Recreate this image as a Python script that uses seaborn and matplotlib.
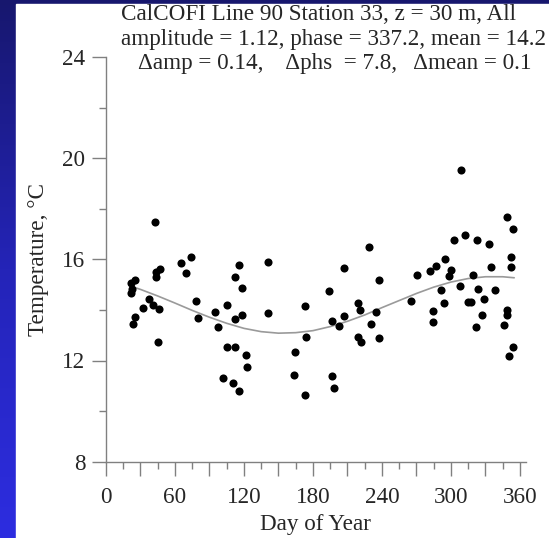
import numpy as np
import matplotlib
matplotlib.use("Agg")
import matplotlib.pyplot as plt
from matplotlib.ticker import MultipleLocator, FuncFormatter
from matplotlib.colors import LinearSegmentedColormap
from matplotlib.patches import Rectangle
import seaborn as sns

day = [21.4, 22.6, 21.7, 25.5, 23.2, 25.5, 32.1, 37.1, 40.5, 46.3,
       42.6, 43.4, 43.2, 47.2, 44.9, 65.2, 69.2, 74.1, 77.9, 80.2,
       94.7, 97.3, 105.4, 105.1, 112.1, 101.7, 110.1, 116.1, 112.1, 116.1,
       118.7, 112.1, 118.7, 121.4, 122.2,
       141.0, 141.0, 172.9, 174.0, 164.8, 163.6, 172.9,
       194.0, 196.9, 203.0, 196.9, 198.1, 206.8, 207.0, 218.9, 220.7, 218.9,
       222.1, 228.8, 230.8, 234.9, 237.8, 237.8, 265.0, 270.5,
       308.7, 281.8, 286.7, 294.8, 299.7, 298.0, 291.6, 293.9, 284.7, 284.7,
       302.6, 311.9, 307.8, 322.3, 333.0, 319.5, 334.8, 323.8, 338.3, 328.7,
       314.8, 317.7, 326.7, 321.7, 348.7, 353.6, 351.9, 351.9, 348.7, 349.0,
       346.4, 353.6, 350.7]
temp = [14.66, 14.84, 15.05, 15.18, 13.43, 13.73, 14.09, 14.43, 14.18, 14.05,
        17.46, 15.50, 15.29, 15.62, 12.73, 15.87, 15.46, 16.09, 14.34, 13.67,
        13.93, 13.32, 14.18, 12.52, 12.52, 11.31, 11.11, 10.79, 15.31, 15.77,
        14.85, 13.64, 13.79, 12.22, 11.73,
        15.88, 13.87, 14.14, 12.94, 12.35, 11.44, 10.62,
        14.75, 13.56, 13.38, 11.39, 10.91, 15.64, 13.77, 14.26, 14.00, 12.92,
        12.73, 16.49, 13.43, 13.92, 15.18, 12.89, 14.35, 15.39,
        19.52, 15.54, 15.75, 16.00, 15.58, 15.35, 14.80, 14.27, 13.96, 13.52,
        16.78, 16.97, 14.94, 16.76, 16.62, 15.39, 15.68, 14.81, 14.79, 14.42,
        14.30, 14.30, 13.80, 13.33, 17.67, 17.21, 16.09, 15.70, 14.00, 13.79,
        13.42, 12.55, 12.18]

# Annual harmonic fit (grey curve)
fit_day = [22, 30, 45, 60, 75, 90, 105, 120, 135, 150, 165, 180, 195,
           210, 225, 240, 255, 270, 285, 300, 315, 330, 345, 355]
fit_temp = [14.93, 14.81, 14.55, 14.27, 13.98, 13.71, 13.47, 13.27, 13.14,
            13.08, 13.10, 13.18, 13.34, 13.55, 13.80, 14.09, 14.37, 14.65,
            14.90, 15.10, 15.24, 15.31, 15.31, 15.27]

title_lines = ["CalCOFI Line 90 Station 33, z = 30 m, All",
               "amplitude = 1.12, phase = 337.2, mean = 14.2",
               "\u0394amp = 0.14,    \u0394phs  = 7.8,   \u0394mean = 0.1"]

sns.set_style("ticks")
plt.rcParams["font.family"] = ["Liberation Serif", "DejaVu Serif"]
FS = 16.7

W, H = 549, 538
fig = plt.figure(figsize=(W / 100, H / 100), dpi=100)

# blue slide background with a white panel
bg = fig.add_axes([0, 0, 1, 1], zorder=-10)
grad = np.linspace(0, 1, 256).reshape(-1, 1)
cmap = LinearSegmentedColormap.from_list("slide", ["#17176e", "#2424b8", "#2d2de0"])
bg.imshow(grad, aspect="auto", cmap=cmap, extent=[0, W, H, 0])
bg.add_patch(Rectangle((16, 4), W - 16, H - 4, color="white"))
bg.set_xlim(0, W)
bg.set_ylim(H, 0)
bg.axis("off")

ax = fig.add_axes([106 / W, 76.3 / H, 419.7 / W, 404.8 / H])
ax.set_facecolor("none")

sns.lineplot(x=fit_day, y=fit_temp, ax=ax, color="#9a9a9a", linewidth=1.2, zorder=2)
sns.scatterplot(x=day, y=temp, ax=ax, color="black", s=34, linewidth=0, zorder=3)

ax.set_xlim(0, 365)
ax.set_ylim(8, 24)
ax.xaxis.set_major_locator(MultipleLocator(30))
ax.xaxis.set_minor_locator(MultipleLocator(15))
ax.xaxis.set_major_formatter(FuncFormatter(lambda v, p: f"{int(v)}" if v % 60 == 0 else ""))
ax.yaxis.set_major_locator(MultipleLocator(4))
ax.yaxis.set_minor_locator(MultipleLocator(2))

for s in ["top", "right"]:
    ax.spines[s].set_visible(False)
for s in ["left", "bottom"]:
    ax.spines[s].set_color("#808080")
    ax.spines[s].set_linewidth(1)

ax.tick_params(which="major", length=10, width=1, color="#808080", labelsize=FS, direction="out")
ax.tick_params(which="minor", length=5, width=1, color="#808080", direction="out")
ax.tick_params(axis="x", which="major", pad=8.5)
ax.tick_params(axis="y", which="major", pad=5)

ax.set_xlabel("Day of Year", fontsize=FS, labelpad=4)
ax.set_ylabel("Temperature, \u00b0C", fontsize=FS, labelpad=9)

fig.text(121 / W, 1 - 20 / H, title_lines[0], fontsize=FS, ha="left", va="baseline")
fig.text(121 / W, 1 - 44.5 / H, title_lines[1], fontsize=FS, ha="left", va="baseline")
fig.text(138 / W, 1 - 69 / H, title_lines[2], fontsize=FS, ha="left", va="baseline")

fig.savefig("out.png", dpi=100)
